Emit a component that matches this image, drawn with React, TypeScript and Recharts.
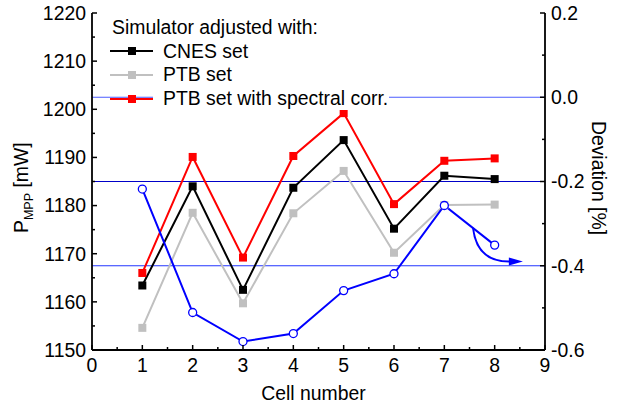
import React from "react";
import {
  ComposedChart,
  Legend,
  Line,
  ReferenceLine,
  XAxis,
  YAxis,
} from "recharts";

// Cell-by-cell maximum power readings and their deviation
const CELLS = [1, 2, 3, 4, 5, 6, 7, 8];
const CNES_SET = [1163.4, 1184.0, 1162.5, 1183.7, 1193.6, 1175.2, 1186.2, 1185.5];
const PTB_SET = [1154.6, 1178.5, 1159.7, 1178.4, 1187.2, 1170.2, 1180.1, 1180.2];
const PTB_SPECTRAL = [1166.0, 1190.1, 1169.2, 1190.3, 1199.2, 1180.3, 1189.3, 1189.8];
const DEVIATION = [-0.218, -0.511, -0.58, -0.561, -0.459, -0.419, -0.257, -0.351];

const X_TICKS = [0, 0.5, 1, 1.5, 2, 2.5, 3, 3.5, 4, 4.5, 5, 5.5, 6, 6.5, 7, 7.5, 8, 8.5, 9];
const LEFT_TICKS = [1150, 1155, 1160, 1165, 1170, 1175, 1180, 1185, 1190, 1195, 1200, 1205, 1210, 1215, 1220];
const RIGHT_TICKS = [-0.6, -0.5, -0.4, -0.3, -0.2, -0.1, 0, 0.1, 0.2];

// horizontal guides on the deviation axis
const GUIDES = [
  { level: 0, color: "#4b5cff" },
  { level: -0.2, color: "#0000c8" },
  { level: -0.4, color: "#2336ff" },
];

// arrow pointing from the last deviation point to the right-hand axis
const ARROW = [
  { x: 7.57, y: -0.31 },
  { x: 8.56, y: -0.39 },
];

const LEGEND_TITLE = "Simulator adjusted with:";
const LEGEND_ITEMS = [
  { label: "CNES set", color: "#000000" },
  { label: "PTB set", color: "#c0c0c0" },
  { label: "PTB set with spectral corr.", color: "#ff0000" },
];

const FONT = '"Liberation Sans", Arial, sans-serif';
const FONT_SIZE = 19.4;
const AXIS_STROKE = "#000";

const data = CELLS.map((cell, i) => ({
  cell,
  cnes: CNES_SET[i],
  ptb: PTB_SET[i],
  ptbCorr: PTB_SPECTRAL[i],
  deviation: DEVIATION[i],
}));

const tickText = {
  fontFamily: FONT,
  fontSize: FONT_SIZE,
  fill: "#000",
};

// ticks point into the frame, Origin style
function BottomTick({ x, y, payload }: any) {
  const v = payload.value as number;
  const major = Number.isInteger(v);
  return (
    <g>
      <line x1={x} x2={x} y1={y} y2={y - (major ? 5 : 3)} stroke={AXIS_STROKE} strokeWidth={1.5} />
      {major && (
        <text x={x} y={y + 22} textAnchor="middle" {...tickText}>
          {v}
        </text>
      )}
    </g>
  );
}

function TopTick({ x, y, payload }: any) {
  const major = Number.isInteger(payload.value);
  return <line x1={x} x2={x} y1={y} y2={y + (major ? 5 : 3)} stroke={AXIS_STROKE} strokeWidth={1.5} />;
}

function LeftTick({ x, y, payload }: any) {
  const v = payload.value as number;
  const major = v % 10 === 0;
  return (
    <g>
      <line x1={x} x2={x + (major ? 5 : 3)} y1={y} y2={y} stroke={AXIS_STROKE} strokeWidth={1.5} />
      {major && (
        <text x={x - 6} y={y + 6.8} textAnchor="end" {...tickText}>
          {v}
        </text>
      )}
    </g>
  );
}

function RightTick({ x, y, payload }: any) {
  const v = payload.value as number;
  const major = Math.round(v * 10) % 2 === 0;
  return (
    <g>
      <line x1={x} x2={x - (major ? 5 : 3)} y1={y} y2={y} stroke={AXIS_STROKE} strokeWidth={1.5} />
      {major && (
        <text x={x + 6} y={y + 6.8} textAnchor="start" {...tickText}>
          {v.toFixed(1)}
        </text>
      )}
    </g>
  );
}

function BottomTitle({ viewBox }: any) {
  const vb = viewBox ?? { x: 92, y: 350, width: 453 };
  return (
    <text x={vb.x + vb.width / 2 - 5} y={vb.y + 50} textAnchor="middle" {...tickText}>
      Cell number
    </text>
  );
}

function LeftTitle({ viewBox }: any) {
  const vb = viewBox ?? { x: 0, y: 13 };
  const x = vb.x + 28;
  const y = 233;
  return (
    <text x={x} y={y} transform={`rotate(-90 ${x} ${y})`} textAnchor="start" {...tickText}>
      P
      <tspan fontSize={12.5} dy={5}>
        MPP
      </tspan>
      <tspan dy={-5}> [mW]</tspan>
    </text>
  );
}

function RightTitle({ viewBox }: any) {
  const vb = viewBox ?? { x: 545 };
  const x = vb.x + 47;
  const y = 178;
  return (
    <text x={x} y={y} transform={`rotate(90 ${x} ${y})`} textAnchor="middle" {...tickText}>
      Deviation [%]
    </text>
  );
}

function squareDot(color: string) {
  return (props: any) => {
    const { cx, cy, index } = props;
    if (cx == null || cy == null) return <g key={`sq-${index}`} />;
    return <rect key={`sq-${index}`} x={cx - 4} y={cy - 4} width={8} height={8} fill={color} />;
  };
}

function CurvedArrow(props: any) {
  const { x1, y1, x2, y2 } = props;
  const tipBase = x2 - 14;
  return (
    <g>
      <path
        d={`M ${x1} ${y1} Q ${x1 + 4} ${y2 + 1} ${tipBase + 2} ${y2}`}
        fill="none"
        stroke="#0000ff"
        strokeWidth={2}
      />
      <polygon points={`${x2},${y2} ${tipBase},${y2 - 4} ${tipBase},${y2 + 4}`} fill="#0000ff" />
    </g>
  );
}

function LegendBox() {
  const row = { height: 23.6, display: "flex", alignItems: "center" } as const;
  return (
    <div style={{ fontFamily: FONT, fontSize: FONT_SIZE, color: "#000", lineHeight: "23.6px" }}>
      <div style={{ ...row, paddingLeft: 2, whiteSpace: "nowrap" }}>{LEGEND_TITLE}</div>
      {LEGEND_ITEMS.map((item) => (
        <div key={item.label} style={row}>
          <svg width={43} height={12} style={{ display: "block" }}>
            <line x1={0} x2={43} y1={6} y2={6} stroke={item.color} strokeWidth={2} />
            <rect x={18} y={2} width={8} height={8} fill={item.color} />
          </svg>
          <span
            style={{
              background: "#fff",
              paddingLeft: 10,
              width: 226,
              whiteSpace: "nowrap",
              display: "block",
            }}
          >
            {item.label}
          </span>
        </div>
      ))}
    </div>
  );
}

export default function App() {
  return (
    <div style={{ position: "absolute", left: 0, top: 0, width: 620, height: 407, background: "#fff" }}>
      <ComposedChart
        width={620}
        height={407}
        data={data}
        margin={{ top: 13, right: 0, bottom: 0, left: 0 }}
      >
        <XAxis
          dataKey="cell"
          type="number"
          domain={[0, 9]}
          ticks={X_TICKS}
          interval={0}
          height={57}
          tickSize={0}
          tickMargin={0}
          tickLine={false}
          axisLine={{ stroke: AXIS_STROKE, strokeWidth: 1.8 }}
          tick={(p: any) => <BottomTick {...p} />}
          label={<BottomTitle />}
        />
        <XAxis
          xAxisId="top"
          orientation="top"
          type="number"
          domain={[0, 9]}
          ticks={X_TICKS}
          interval={0}
          height={0}
          tickSize={0}
          tickMargin={0}
          tickLine={false}
          axisLine={{ stroke: AXIS_STROKE, strokeWidth: 1.8 }}
          tick={(p: any) => <TopTick {...p} />}
        />
        <YAxis
          yAxisId="left"
          type="number"
          domain={[1150, 1220]}
          ticks={LEFT_TICKS}
          interval={0}
          width={92}
          tickSize={0}
          tickMargin={0}
          tickLine={false}
          axisLine={{ stroke: AXIS_STROKE, strokeWidth: 1.8 }}
          tick={(p: any) => <LeftTick {...p} />}
          label={<LeftTitle />}
        />
        <YAxis
          yAxisId="right"
          orientation="right"
          type="number"
          domain={[-0.6, 0.2]}
          ticks={RIGHT_TICKS}
          interval={0}
          width={75}
          tickSize={0}
          tickMargin={0}
          tickLine={false}
          axisLine={{ stroke: AXIS_STROKE, strokeWidth: 1.8 }}
          tick={(p: any) => <RightTick {...p} />}
          label={<RightTitle />}
        />

        {GUIDES.map((g) => (
          <ReferenceLine key={g.level} yAxisId="right" y={g.level} stroke={g.color} strokeWidth={1.2} />
        ))}

        <Line
          yAxisId="left"
          dataKey="ptb"
          stroke="#c0c0c0"
          strokeWidth={2}
          dot={squareDot("#c0c0c0")}
          activeDot={false}
          isAnimationActive={false}
        />
        <Line
          yAxisId="left"
          dataKey="cnes"
          stroke="#000000"
          strokeWidth={2}
          dot={squareDot("#000000")}
          activeDot={false}
          isAnimationActive={false}
        />
        <Line
          yAxisId="left"
          dataKey="ptbCorr"
          stroke="#ff0000"
          strokeWidth={2}
          dot={squareDot("#ff0000")}
          activeDot={false}
          isAnimationActive={false}
        />
        <Line
          yAxisId="right"
          dataKey="deviation"
          stroke="#0000ff"
          strokeWidth={2}
          dot={{ r: 4, fill: "#fff", stroke: "#0000ff", strokeWidth: 1.3 }}
          activeDot={false}
          isAnimationActive={false}
        />

        <ReferenceLine yAxisId="right" segment={ARROW} shape={CurvedArrow} />

        <Legend
          layout="vertical"
          align="center"
          verticalAlign="middle"
          wrapperStyle={{ left: 110, top: 16, width: 290, height: 96 }}
          content={() => <LegendBox />}
        />
      </ComposedChart>
    </div>
  );
}
